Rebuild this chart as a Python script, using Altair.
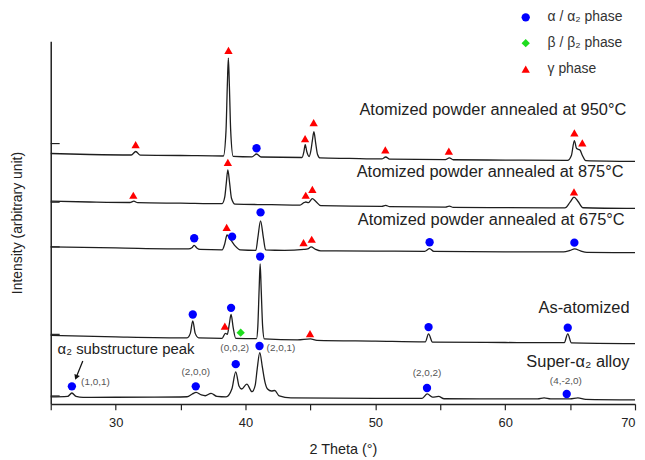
import altair as alt
import pandas as pd

FONT = "Liberation Sans"

# ---------------- XRD patterns (2θ in degrees, intensity in arbitrary units) ----------------
x_950 = [25.0, 28.0, 31.2, 31.55, 31.9, 35.0, 38.3, 38.5, 38.6, 38.68, 38.76, 38.86, 39.05,
         40.5, 40.85, 41.2, 44.35, 44.5, 44.6, 44.72, 44.9, 45.05, 45.15, 45.27, 45.4, 45.55,
         45.75, 48.0, 50.5, 50.8, 51.1, 55.4, 55.7, 56.0, 60.0, 64.8, 65.1, 65.33, 65.5, 65.76,
         65.95, 66.2, 70.0]
i_950 = [252, 251, 250.5, 254, 250.3, 250, 249.5, 275, 320, 348, 320, 275, 249.2,
         248.7, 251.5, 248.5, 248, 254, 261, 254, 249, 256, 265, 274, 263, 251,
         247.5, 247, 246.5, 248.5, 246.3, 245.8, 247.7, 245.7, 245.4, 245, 250, 265, 257, 255.5,
         250, 244.8, 244]

x_875 = [25.0, 28.0, 31.1, 31.4, 31.7, 35.0, 38.2, 38.4, 38.52, 38.64, 38.78, 38.92, 39.2,
         42.0, 44.2, 44.5, 44.65, 44.85, 45.15, 45.4, 45.8, 50.5, 50.8, 51.1, 55.4, 55.7, 56.0,
         60.0, 64.6, 65.0, 65.3, 65.6, 66.0, 70.0]
i_875 = [204, 203.2, 202.7, 204, 202.5, 202, 201.5, 208, 222, 235.5, 222, 207, 201,
         200.5, 200, 202.5, 203.2, 202.5, 206.5, 204, 199.5, 198.7, 199.8, 198.5, 198, 199, 197.8,
         197.5, 197.2, 203, 208, 204, 197.4, 196.7]

x_675 = [25.0, 30.0, 35.6, 35.9, 36.05, 36.25, 36.5, 38.2, 38.4, 38.58, 38.75, 38.95, 39.2,
         39.6, 40.8, 40.95, 41.16, 41.38, 41.55, 43.0, 44.5, 44.8, 45.05, 45.4, 45.8, 50.0,
         53.8, 54.18, 54.5, 60.0, 64.5, 65.0, 65.35, 65.8, 66.3, 70.0]
i_675 = [158, 157, 156, 157.5, 159.5, 157, 155.5, 155, 161, 170, 167, 163.5, 159,
         155, 154.5, 167, 184.3, 167, 155, 154.5, 155.5, 156, 158, 155.5, 154, 153.8,
         153.5, 156.2, 153.5, 153, 153, 154.5, 156, 154, 152.5, 152.3]

x_as = [25.0, 30.0, 35.5, 35.75, 35.94, 36.13, 36.4, 38.2, 38.45, 38.6, 38.75, 38.89, 39.05,
        39.25, 40.85, 40.95, 41.05, 41.13, 41.21, 41.32, 41.45, 44.0, 45.0, 45.5, 50.0, 53.85,
        54.1, 54.4, 60.0, 64.55, 64.82, 65.1, 70.0]
i_as = [69, 67.5, 66.5, 71, 83.5, 71, 66.5, 66, 71, 70, 80, 90, 77,
        66, 65.8, 78, 115, 141, 115, 78, 65.5, 64.5, 65.5, 64, 63.2, 62.5,
        70.5, 62.2, 61.8, 61.6, 70.5, 61.4, 60.7]

x_sup = [25.0, 26.3, 26.63, 26.95, 27.5, 30.0, 33.0, 35.5, 35.9, 36.2, 36.6, 36.9, 37.35,
         37.8, 38.5, 38.95, 39.25, 39.5, 39.7, 40.1, 40.5, 40.75, 40.9, 41.1, 41.3, 41.5,
         41.7, 42.0, 42.25, 42.6, 43.5, 50.0, 53.6, 54.0, 54.4, 54.87, 55.3, 58.0, 62.5, 63.0,
         63.5, 65.0, 65.6, 66.2, 70.0]
i_sup = [7, 7.5, 11, 7.5, 6.5, 6.7, 6.8, 7.2, 10, 11.7, 9, 8.2, 10.7,
         7.5, 7, 15, 32.3, 18, 15, 20, 12.3, 19, 35, 51.7, 37, 22,
         15, 13, 13.5, 8, 6, 5.5, 5.5, 10, 6.8, 7.5, 5.2, 5, 5, 6,
         5, 5, 6, 4.5, 4]

series = [
    ("950", x_950, i_950),
    ("875", x_875, i_875),
    ("675", x_675, i_675),
    ("as", x_as, i_as),
    ("super", x_sup, i_sup),
]

# ---------------- phase markers ----------------
PH_A = "α / α₂ phase"
PH_B = "β / β₂ phase"
PH_G = "γ phase"
mark_x = [31.54, 38.69, 44.59, 45.25, 50.77, 55.66, 65.33, 65.94, 40.85,
          31.36, 38.64, 44.64, 45.15, 65.3,
          36.05, 38.97, 41.16, 54.18, 65.33, 38.55, 44.47, 45.1,
          35.94, 38.89, 41.13, 54.1, 64.82, 38.41, 44.97, 39.63,
          26.63, 36.17, 39.25, 41.08, 53.98, 64.74]
mark_i = [261, 355.7, 267, 283, 255.7, 254.3, 272.7, 262.7, 257.3,
          210, 243, 210, 216, 213.3,
          166.7, 168.3, 192.7, 162.7, 162.3, 177.7, 162.3, 165.7,
          90, 96.7, 148.3, 77.3, 76.7, 78.3, 70.7, 71.7,
          17.7, 17.7, 40, 58.3, 16, 10]
mark_phase = [PH_G] * 8 + [PH_A] + [PH_G] * 5 + [PH_A] * 5 + [PH_G] * 3 + \
             [PH_A] * 5 + [PH_G] * 2 + [PH_B] + [PH_A] * 6

# ---------------- text annotations ----------------
lab_text = ["Atomized powder annealed at 950°C", "Atomized powder annealed at 875°C",
            "Atomized powder annealed at 675°C", "As-atomized", "Super-α₂ alloy"]
lab_x = [69.33, 69.12, 69.2, 69.58, 69.58]
lab_i = [295.7, 233.3, 185, 96.7, 41.7]

hkl_text = ["(2,0,0)", "(0,0,2)", "(2,0,1)", "(2,0,2)", "(4,-2,0)"]
hkl_x = [36.17, 39.17, 42.73, 53.98, 64.67]
hkl_i = [32.3, 56, 56, 30.7, 22.7]

hkl101_text = ["(1,0,1)"]
hkl101_x = [27.34]
hkl101_i = [22.3]

sub_text = ["α₂ substructure peak"]
sub_x = [25.53]
sub_i = [55]

arrow_x = [27.47, 26.96]
arrow_i = [43.3, 26.7]

ytick_vals = [262, 203, 158, 70, 8]
xtick_vals = [25, 30, 35, 40, 45, 50, 55, 60, 65, 70]

# ---------------- build tables ----------------
rows = []
for name, xv, yv in series:
    for k, (a, b) in enumerate(zip(xv, yv)):
        rows.append({"s": name, "x": a, "I": b, "o": k})
curves = pd.DataFrame(rows)
markers = pd.DataFrame({"x": mark_x, "I": mark_i, "phase": mark_phase})
labels = pd.DataFrame({"x": lab_x, "I": lab_i, "t": lab_text})
hkl = pd.DataFrame({"x": hkl_x, "I": hkl_i, "t": hkl_text})
hkl101 = pd.DataFrame({"x": hkl101_x, "I": hkl101_i, "t": hkl101_text})
sub = pd.DataFrame({"x": sub_x, "I": sub_i, "t": sub_text})
arrow = pd.DataFrame({"x": arrow_x, "I": arrow_i, "o": [0, 1]})
arrow_head = arrow.iloc[[1]]
yt = pd.DataFrame({"I": ytick_vals})

xs = alt.Scale(domain=[25, 70], nice=False, zero=False)
ys = alt.Scale(domain=[0, 365], nice=False, zero=False)

X_AX = alt.Axis(values=xtick_vals, labelExpr="datum.value % 10 == 0 ? datum.label : ''",
                tickSize=6, tickColor="#222", tickWidth=1.2, domainColor="#222", domainWidth=1.5,
                labelFontSize=13, labelColor="#222", labelPadding=7, grid=False, labelFont=FONT,
                title="2 Theta (°)", titleFontSize=14.5, titleFontWeight="normal", titleColor="#222",
                titlePadding=13, titleFont=FONT)
Y_AX = alt.Axis(labels=False, ticks=False, grid=False, domainColor="#222", domainWidth=1.5,
                title="Intensity (arbitrary unit)", titleFontSize=14, titleFontWeight="normal",
                titleColor="#222", titlePadding=26, titleFont=FONT)


def X():
    return alt.X("x:Q", scale=xs, axis=X_AX)


def Y():
    return alt.Y("I:Q", scale=ys, axis=Y_AX)


lines = alt.Chart(curves).mark_line(interpolate="monotone", color="#1e1e1e", strokeWidth=1.3).encode(
    x=X(), y=Y(), detail="s:N", order="o:Q")

yticks = alt.Chart(yt).mark_rule(color="#222", strokeWidth=1.2).encode(
    y=Y(), x=alt.value(0), x2=alt.value(9))

LEG = alt.Legend(orient="none", legendX=471, legendY=-31, title=None,
                 labelFontSize=14, labelColor="#333", labelFont=FONT, symbolSize=70,
                 rowPadding=12, labelOffset=15, padding=0, symbolStrokeWidth=0)

pts = alt.Chart(markers).mark_point(filled=True, opacity=1, size=70).encode(
    x=X(), y=Y(),
    color=alt.Color("phase:N", scale=alt.Scale(domain=[PH_A, PH_B, PH_G],
                                               range=["#0000ff", "#1fdc1f", "#ff0000"]),
                    legend=LEG),
    shape=alt.Shape("phase:N", scale=alt.Scale(domain=[PH_A, PH_B, PH_G],
                                               range=["circle", "diamond", "triangle-up"]),
                    legend=LEG),
)

lab_layer = alt.Chart(labels).mark_text(align="right", baseline="middle", fontSize=16.5,
                                        color="#222", font=FONT).encode(
    x=X(), y=Y(), text="t:N")

hkl_layer = alt.Chart(hkl).mark_text(align="center", baseline="middle", fontSize=10,
                                     color="#555", font=FONT).encode(
    x=X(), y=Y(), text="t:N")

hkl101_layer = alt.Chart(hkl101).mark_text(align="left", baseline="middle", fontSize=10,
                                           color="#555", font=FONT).encode(
    x=X(), y=Y(), text="t:N")

sub_layer = alt.Chart(sub).mark_text(align="left", baseline="middle", fontSize=15,
                                     color="#222", font=FONT).encode(
    x=X(), y=Y(), text="t:N")

arrow_line = alt.Chart(arrow).mark_line(color="#111", strokeWidth=1.3).encode(
    x=X(), y=Y(), order="o:Q")

arrow_tip = alt.Chart(arrow_head).mark_point(shape="triangle-up", filled=True, color="#111",
                                             opacity=1, size=35, angle=202).encode(
    x=X(), y=Y())

chart = alt.layer(lines, yticks, pts, lab_layer, hkl_layer, hkl101_layer, sub_layer,
                  arrow_line, arrow_tip).properties(
    width=588, height=365,
    autosize=alt.AutoSizeParams(type="none"),
    padding={"left": 43, "top": 32, "right": 2, "bottom": 53},
).configure_view(stroke=None)

chart.save("out.html", embed_options={"renderer": "svg", "actions": False})
